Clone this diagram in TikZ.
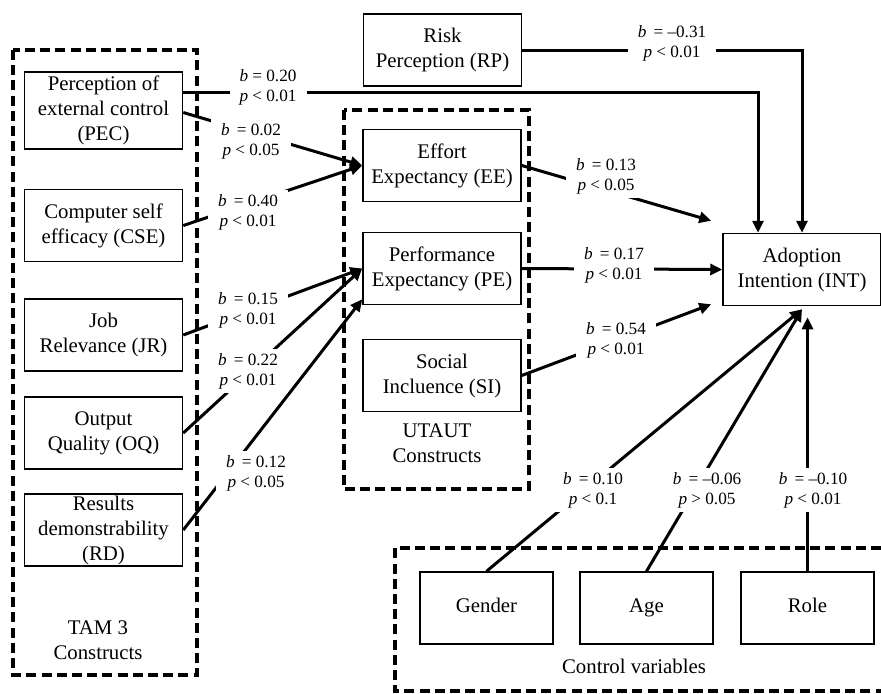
\documentclass[tikz,border=0pt]{standalone}
\usepackage{fontspec}
\setmainfont{Liberation Serif}
\usetikzlibrary{arrows.meta,calc}

\begin{document}
\begin{tikzpicture}[x=0.5pt,y=-0.5pt,
    construct/.style={draw,line width=0.75pt,minimum width=79pt,minimum height=36pt,inner sep=0pt,align=center,font=\fontsize{10.4}{12.5}\selectfont},
    ctrl/.style={construct,minimum width=66.5pt,text height=7.3pt,text depth=2.4pt},
    grplbl/.style={align=center,font=\fontsize{10.4}{12.5}\selectfont},
    grp/.style={line width=1.7pt,dash pattern=on 5pt off 2.6pt},
    effect/.style={line width=1.5pt,-{Triangle[length=6pt,width=5.5pt]}},
    coef/.style={fill=white,align=center,inner xsep=5pt,inner ysep=2pt,font=\fontsize{8.6}{10}\selectfont}]
  \useasboundingbox (0,0) rectangle (881,693);
  \draw[grp] (13,50) rectangle (197,675);
  \draw[grp] (344,110) rectangle (529,489);
  \draw[grp] (881,548) -- (395,548) -- (395,691) -- (881,691);

  \node[construct,minimum height=38.5pt] (pec) at (103.5,110.5) {Perception of\\external control\\(PEC)};
  \node[construct] (cse) at (103.5,225.5) {Computer self\\efficacy (CSE)};
  \node[construct] (jr) at (103.5,335) {Job\\Relevance (JR)};
  \node[construct] (oq) at (103.5,433) {Output\\Quality (OQ)};
  \node[construct] (rd) at (103.5,530) {Results\\demonstrability\\(RD)};
  \node[grplbl] (tamlbl) at (98,640) {TAM 3\\Constructs};

  \node[construct] (rp) at (442.5,50) {Risk\\Perception (RP)};
  \node[construct] (ee) at (442,165.5) {Effort\\Expectancy (EE)};
  \node[construct] (pe) at (442,268.5) {Performance\\Expectancy (PE)};
  \node[construct] (si) at (442,375.5) {Social\\Incluence (SI)};
  \node[grplbl] (utautlbl) at (437,443) {UTAUT\\Constructs};

  \node[construct] (int) at (802,269.5) {Adoption\\Intention (INT)};

  \node[ctrl] (gender) at (486.5,608) {Gender};
  \node[ctrl] (age) at (646.5,608) {Age};
  \node[ctrl] (role) at (807.5,608) {Role};
  \node[grplbl] (ctrllbl) at (634,666) {Control variables};

  \draw[effect] ([yshift=9.25pt]pec.east) -| ([xshift=-22pt]int.north);
  \draw[effect] (rp.east) -| (int.north);
  \draw[effect] ([yshift=-1pt]pec.east) -- (ee.west);
  \draw[effect] (cse.east) -- (ee.west);
  \draw[effect] (jr.east) -- (pe.west);
  \draw[effect] (oq.east) -- (pe.west);
  \draw[effect] (rd.east) -- ([yshift=3pt]pe.south west);
  \draw[effect] (ee.east) -- ([shift={(-5.5pt,6pt)}]int.north west);
  \draw[effect] (pe.east) -- (int.west);
  \draw[effect] (si.east) -- ([shift={(-5.5pt,1pt)}]int.south west);
  \draw[effect] (gender.north) -- ([yshift=-1.5pt]int.south);
  \draw[effect] (age.north) -- ([yshift=-1.5pt]int.south);
  \draw[effect] (role.north) -- ($(role.north |- int.south)+(0,-5.5pt)$);

  \node[coef] (b1) at (268,87) {\textit{b} = 0.20\\\textit{p} < 0.01};
  \node[coef] (b2) at (672,43) {\textit{b} \,= --0.31\\\textit{p} < 0.01};
  \node[coef] (b3) at (251,141) {\textit{b} \,= 0.02\\\textit{p} < 0.05};
  \node[coef] (b4) at (248,212) {\textit{b} \,= 0.40\\\textit{p} < 0.01};
  \node[coef] (b5) at (248,310) {\textit{b} \,= 0.15\\\textit{p} < 0.01};
  \node[coef] (b6) at (248,371) {\textit{b} \,= 0.22\\\textit{p} < 0.01};
  \node[coef] (b7) at (256,473) {\textit{b} \,= 0.12\\\textit{p} < 0.05};
  \node[coef] (b8) at (606,176) {\textit{b} \,= 0.13\\\textit{p} < 0.05};
  \node[coef] (b9) at (614,265) {\textit{b} \,= 0.17\\\textit{p} < 0.01};
  \node[coef] (b10) at (616,340) {\textit{b} \,= 0.54\\\textit{p} < 0.01};
  \node[coef] (b11) at (593,490) {\textit{b} \,= 0.10\\\textit{p} < 0.1};
  \node[coef] (b12) at (707,490) {\textit{b} \,= --0.06\\\textit{p} > 0.05};
  \node[coef] (b13) at (813,490) {\textit{b} \,= --0.10\\\textit{p} < 0.01};
\end{tikzpicture}
\end{document}
